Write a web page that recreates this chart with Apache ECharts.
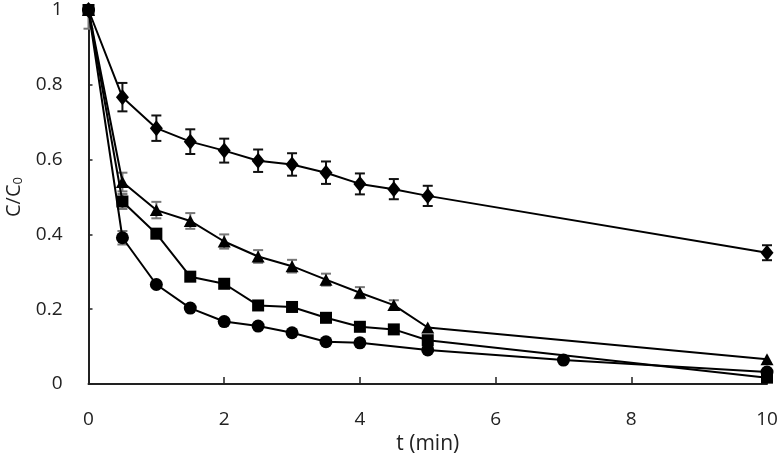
<!DOCTYPE html>
<html>
<head>
<meta charset="utf-8">
<script src="https://cdn.jsdelivr.net/npm/echarts@6/dist/echarts.min.js"></script>
<style>html,body{margin:0;padding:0;background:#fff}#c{width:780px;height:455px}</style>
</head>
<body>
<div id="c"></div>
<script>
var tMain = [0, 0.5, 1, 1.5, 2, 2.5, 3, 3.5, 4, 4.5, 5, 10];
var tCircle = [0, 0.5, 1, 1.5, 2, 2.5, 3, 3.5, 4, 5, 7, 10];
var diamond = [1, 0.767, 0.684, 0.648, 0.624, 0.597, 0.587, 0.565, 0.535, 0.521, 0.503, 0.351];
var diamondErr = [0, 0.038, 0.034, 0.033, 0.032, 0.030, 0.030, 0.030, 0.028, 0.027, 0.027, 0.020];
var triangle = [1, 0.540, 0.465, 0.436, 0.381, 0.341, 0.315, 0.279, 0.244, 0.211, 0.151, 0.066];
var triangleErr = [0.05, 0.025, 0.022, 0.021, 0.019, 0.017, 0.017, 0.016, 0.015, 0.013, 0, 0];
var square = [1, 0.488, 0.402, 0.287, 0.268, 0.210, 0.206, 0.177, 0.153, 0.146, 0.117, 0.017];
var squareErr = [0, 0.020, 0.012, 0, 0, 0, 0, 0, 0, 0, 0, 0];
var circle = [1, 0.391, 0.266, 0.203, 0.167, 0.155, 0.137, 0.113, 0.110, 0.091, 0.064, 0.032];
var circleErr = [0, 0.018, 0, 0, 0, 0, 0, 0, 0, 0, 0, 0];
var xTicks = [0, 2, 4, 6, 8, 10];
var yTicks = [0, 0.2, 0.4, 0.6, 0.8, 1];

function pairs(xs, ys) { return xs.map(function (x, i) { return [x, ys[i]]; }); }
function triples(xs, ys, es) { return xs.map(function (x, i) { return [x, ys[i], es[i]]; }); }

function errSeries(data, color) {
  return {
    type: 'custom',
    z: 1,
    silent: true,
    data: data,
    encode: { x: 0, y: 1 },
    renderItem: function (params, api) {
      var x = api.value(0), y = api.value(1), e = api.value(2);
      if (!e) return null;
      var top = api.coord([x, Math.min(y + e, 1)]);
      var bot = api.coord([x, y - e]);
      var hw = 5;
      var st = { stroke: color, lineWidth: 2 };
      var children = [
        { type: 'line', shape: { x1: top[0], y1: top[1], x2: bot[0], y2: bot[1] }, style: st },
        { type: 'line', shape: { x1: bot[0] - hw, y1: bot[1], x2: bot[0] + hw, y2: bot[1] }, style: st }
      ];
      if (y + e <= 1) {
        children.push({ type: 'line', shape: { x1: top[0] - hw, y1: top[1], x2: top[0] + hw, y2: top[1] }, style: st });
      }
      return { type: 'group', children: children };
    }
  };
}

function lineSeries(data, symbol, size) {
  return {
    type: 'line',
    z: 3,
    data: data,
    symbol: symbol,
    symbolSize: size,
    showAllSymbol: true,
    lineStyle: { color: '#000', width: 2 },
    itemStyle: { color: '#000' },
    animation: false
  };
}

var chart = echarts.init(document.getElementById('c'));
chart.setOption({
  animation: false,
  backgroundColor: '#fff',
  textStyle: { fontFamily: 'Open Sans' },
  grid: { left: 88.5, right: 13, top: 10, bottom: 71, containLabel: false, outerBoundsMode: 'none' },
  xAxis: {
    type: 'value', min: 0, max: 10, interval: 2,
    name: 't (min)', nameLocation: 'middle', nameGap: 49,
    nameTextStyle: { fontSize: 21, color: '#222', fontFamily: 'Open Sans' },
    axisLine: { lineStyle: { color: '#222', width: 2 } },
    axisTick: { inside: true, length: 7, lineStyle: { color: '#222', width: 1.5 } },
    axisLabel: { fontSize: 19, color: '#222', margin: 26, formatter: function (v) { return xTicks.indexOf(v) >= 0 ? String(v) : ''; } },
    splitLine: { show: false }
  },
  yAxis: {
    type: 'value', min: 0, max: 1, interval: 0.2,
    name: '{a|C/C}{b|0}', nameLocation: 'middle', nameGap: 63, nameRotate: 90,
    nameTextStyle: {
      rich: {
        a: { fontSize: 20, color: '#222', fontFamily: 'Open Sans' },
        b: { fontSize: 13, color: '#222', fontFamily: 'Open Sans', padding: [9, 0, 0, 0] }
      }
    },
    axisLine: { show: true, lineStyle: { color: '#222', width: 2 } },
    axisTick: { show: true, inside: true, length: 4, lineStyle: { color: '#222', width: 1.5 } },
    axisLabel: { fontSize: 19, color: '#222', margin: 26, formatter: function (v) {
      for (var i = 0; i < yTicks.length; i++) { if (Math.abs(yTicks[i] - v) < 1e-9) return String(yTicks[i]); }
      return '';
    } },
    splitLine: { show: false }
  },
  series: [
    errSeries(triples(tMain, diamond, diamondErr), '#111'),
    errSeries(triples(tMain, triangle, triangleErr), '#777'),
    errSeries(triples(tMain, square, squareErr), '#777'),
    errSeries(triples(tCircle, circle, circleErr), '#777'),
    lineSeries(pairs(tMain, diamond), 'diamond', [13, 16]),
    lineSeries(pairs(tMain, triangle), 'triangle', [13, 12]),
    lineSeries(pairs(tMain, square), 'rect', 12),
    lineSeries(pairs(tCircle, circle), 'circle', 13)
  ]
});
</script>
</body>
</html>
